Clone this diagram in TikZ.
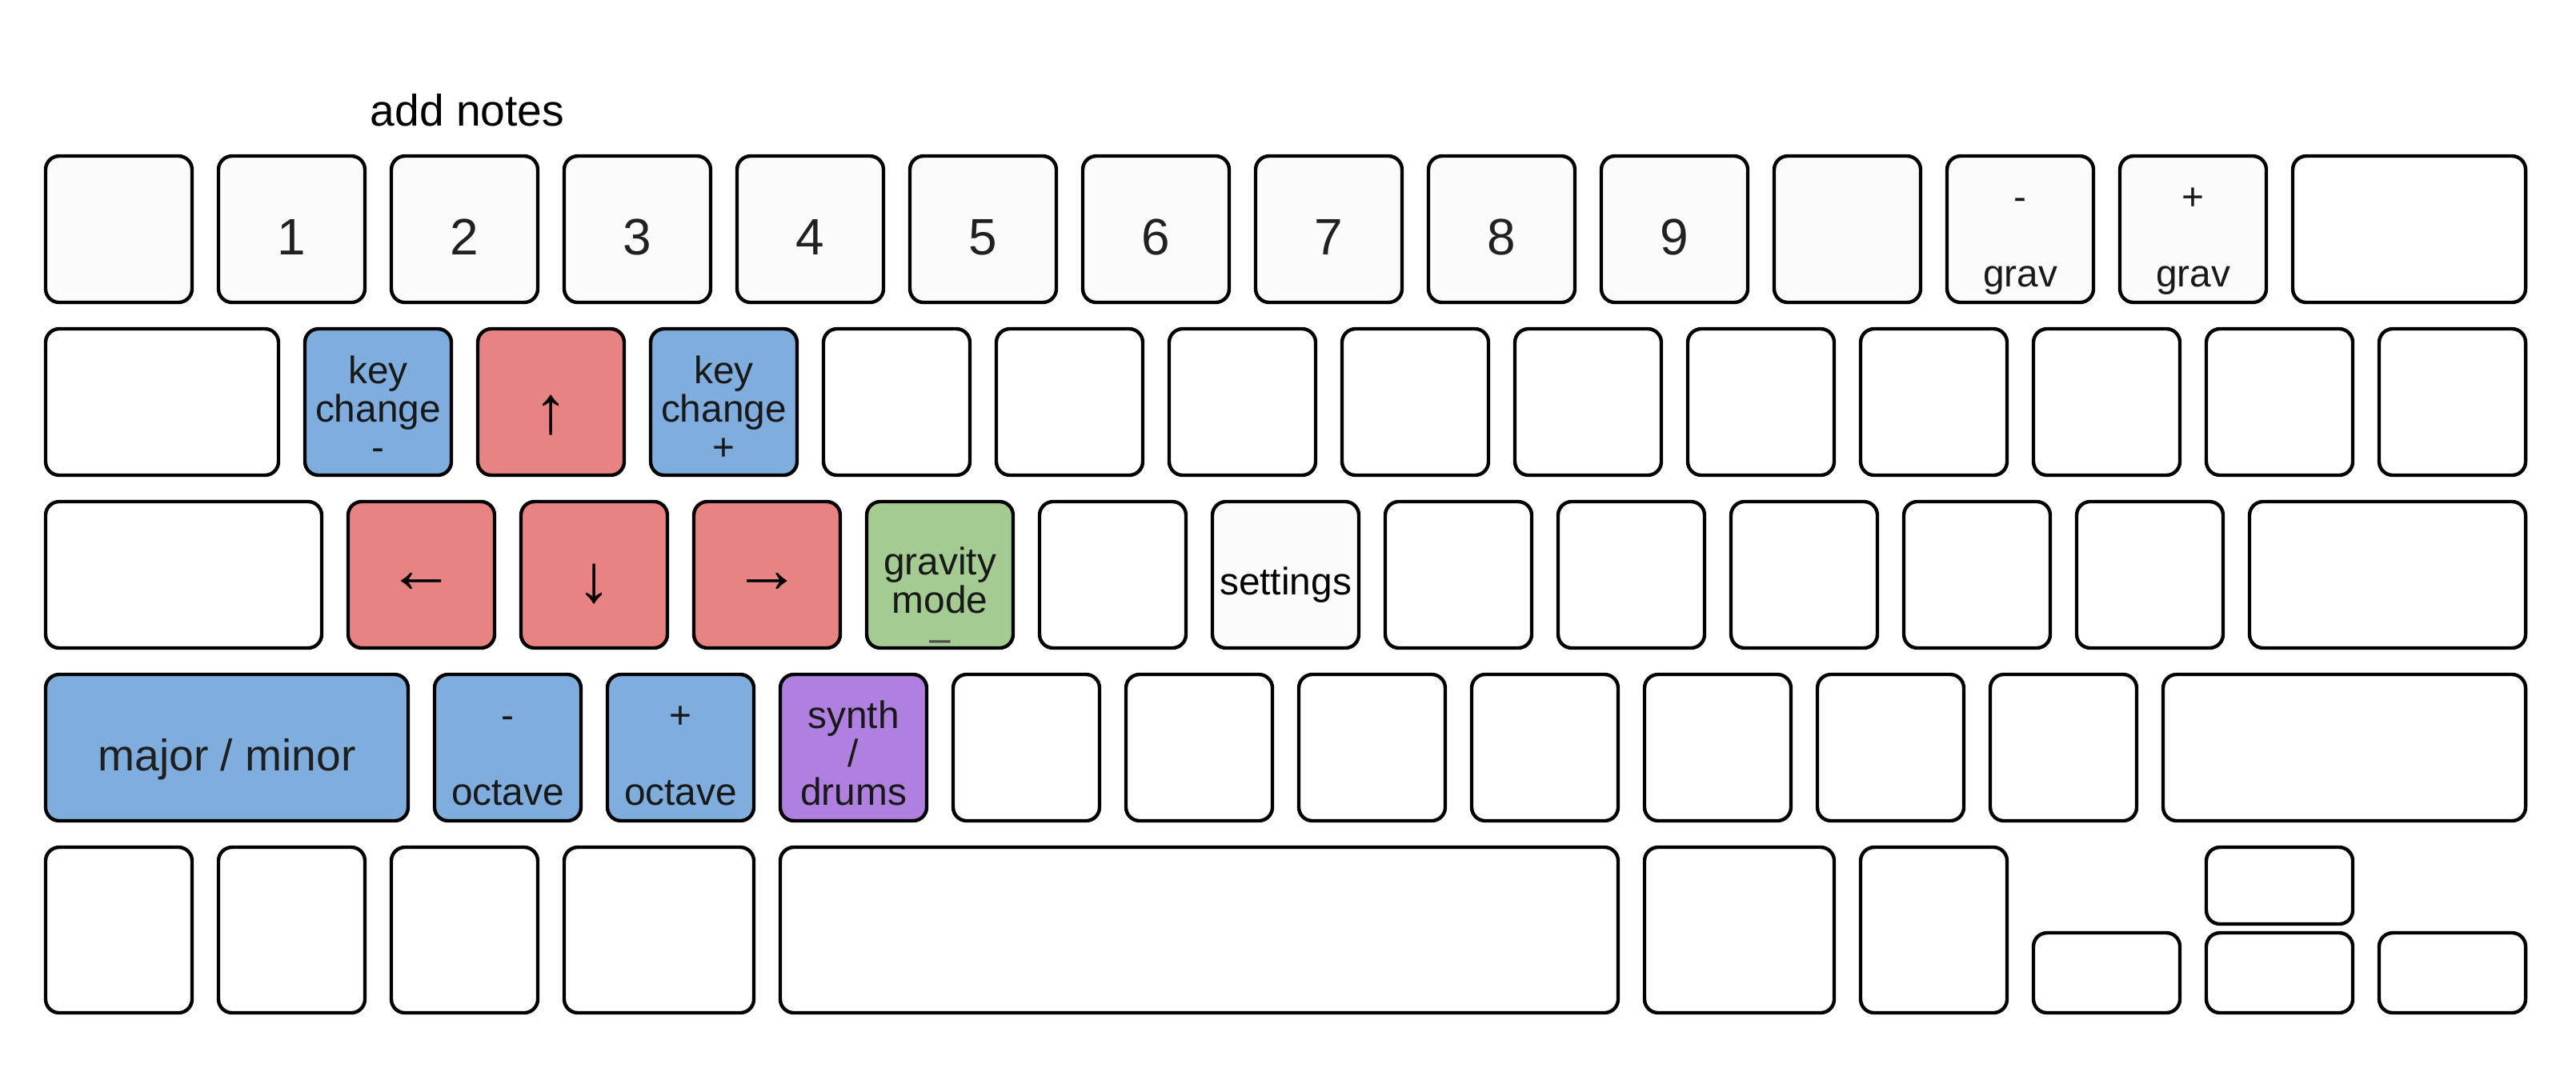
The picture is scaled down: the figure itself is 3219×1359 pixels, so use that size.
\documentclass[tikz,border=0pt]{standalone}
\usepackage{fontspec}
\usepackage{xcolor}
\setmainfont{Liberation Sans}
\usepackage{tikz}

\definecolor{keyblue}{HTML}{7FADDD}
\definecolor{keyred}{HTML}{E88383}
\definecolor{keygreen}{HTML}{A3CB92}
\definecolor{keypurple}{HTML}{B080E0}
\definecolor{keygrey}{HTML}{FBFBFB}

\begin{document}
\begin{tikzpicture}[x=0.01cm, y=-0.01cm,
    keybox/.style={draw=black, line width=1.25pt, rounded corners=0.17cm, fill=white},
    digit/.style={font=\fontsize{18.2}{20}\selectfont, text=black!87, anchor=base, inner sep=0pt},
    legend/.style={font=\fontsize{13.6}{15}\selectfont, text=black!90, anchor=base, inner sep=0pt},
    arrowlabel/.style={font=\fontsize{24}{26}\selectfont, text=black, inner sep=0pt},
    biglabel/.style={font=\fontsize{15.7}{17}\selectfont, text=black!88, anchor=base, inner sep=0pt}]
        \useasboundingbox (0,0) rectangle (3219,1359);

        % row 1
        \foreach \i in {0,...,12}
          \draw[keybox, fill=keygrey] ({57+216*\i},195) rectangle ++(183,183);
        \draw[keybox] (2865,195) rectangle ++(291,183);

        \node[biglabel, text=black] (addnotes) at (584,157) {add notes};
        \foreach \i in {1,...,9}
          \node[digit] (num\i) at ({148.5+216*\i},318) {\i};
        \node[legend] (gravminus) at (2524.5,262) {-};
        \node[legend] (gravdown) at (2524.5,358) {grav};
        \node[legend] (gravplus) at (2740.5,262) {+};
        \node[legend] (gravup) at (2740.5,358) {grav};

        % row 2
        \draw[keybox] (57,411) rectangle ++(291,183);
        \draw[keybox, fill=keyblue] (381,411) rectangle ++(183,183);
        \draw[keybox, fill=keyred] (597,411) rectangle ++(183,183);
        \draw[keybox, fill=keyblue] (813,411) rectangle ++(183,183);
        \foreach \j in {3,...,12}
          \draw[keybox] ({381+216*\j},411) rectangle ++(183,183);

        \node[legend] (keydowna) at (472.5,479) {key};
        \node[legend] (keydownb) at (472.5,527) {change};
        \node[legend] (keydownc) at (472.5,575) {-};
        \node[arrowlabel] (uparrow) at (688.5,519) {↑};
        \node[legend] (keyupa) at (904.5,479) {key};
        \node[legend] (keyupb) at (904.5,527) {change};
        \node[legend] (keyupc) at (904.5,575) {+};

        % row 3
        \draw[keybox] (57,627) rectangle ++(345,183);
        \draw[keybox, fill=keyred] (435,627) rectangle ++(183,183);
        \draw[keybox, fill=keyred] (651,627) rectangle ++(183,183);
        \draw[keybox, fill=keyred] (867,627) rectangle ++(183,183);
        \draw[keybox, fill=keygreen] (1083,627) rectangle ++(183,183);
        \draw[keybox] (1299,627) rectangle ++(183,183);
        \draw[keybox, fill=keygrey] (1515,627) rectangle ++(183,183);
        \foreach \j in {6,...,10}
          \draw[keybox] ({435+216*\j},627) rectangle ++(183,183);
        \draw[keybox] (2811,627) rectangle ++(345,183);

        \node[arrowlabel] (leftarrow) at (526.5,729) {←};
        \node[arrowlabel] (downarrow) at (742.5,730) {↓};
        \node[arrowlabel] (rightarrow) at (958.5,729) {→};
        \node[legend] (gravitya) at (1174.5,718) {gravity};
        \node[legend] (gravityb) at (1174.5,766) {mode};
        \node[legend, text=black!70] (gravityc) at (1174.5,814) {–};
        \node[legend, text=black] (settings) at (1606.5,743) {settings};

        % row 4
        \draw[keybox, fill=keyblue] (57,843) rectangle ++(453,183);
        \draw[keybox, fill=keyblue] (543,843) rectangle ++(183,183);
        \draw[keybox, fill=keyblue] (759,843) rectangle ++(183,183);
        \draw[keybox, fill=keypurple] (975,843) rectangle ++(183,183);
        \foreach \j in {3,...,9}
          \draw[keybox] ({543+216*\j},843) rectangle ++(183,183);
        \draw[keybox] (2703,843) rectangle ++(453,183);

        \node[biglabel] (majorminor) at (283.5,963) {major / minor};
        \node[legend] (octminus) at (634.5,910) {-};
        \node[legend] (octdown) at (634.5,1006) {octave};
        \node[legend] (octplus) at (850.5,910) {+};
        \node[legend] (octup) at (850.5,1006) {octave};
        \node[legend] (synth) at (1066.5,910) {synth};
        \node[legend] (slash) at (1066.5,958) {/};
        \node[legend] (drums) at (1066.5,1006) {drums};

        % row 5
        \draw[keybox] (57,1059) rectangle ++(183,207);
        \draw[keybox] (273,1059) rectangle ++(183,207);
        \draw[keybox] (489,1059) rectangle ++(183,207);
        \draw[keybox] (705,1059) rectangle ++(237,207);
        \draw[keybox] (975,1059) rectangle ++(1047,207);
        \draw[keybox] (2055,1059) rectangle ++(237,207);
        \draw[keybox] (2325,1059) rectangle ++(183,207);
        \draw[keybox] (2541,1166) rectangle ++(183,100);
        \draw[keybox] (2757,1059) rectangle ++(183,96);
        \draw[keybox] (2757,1166) rectangle ++(183,100);
        \draw[keybox] (2973,1166) rectangle ++(183,100);
      \end{tikzpicture}
\end{document}
